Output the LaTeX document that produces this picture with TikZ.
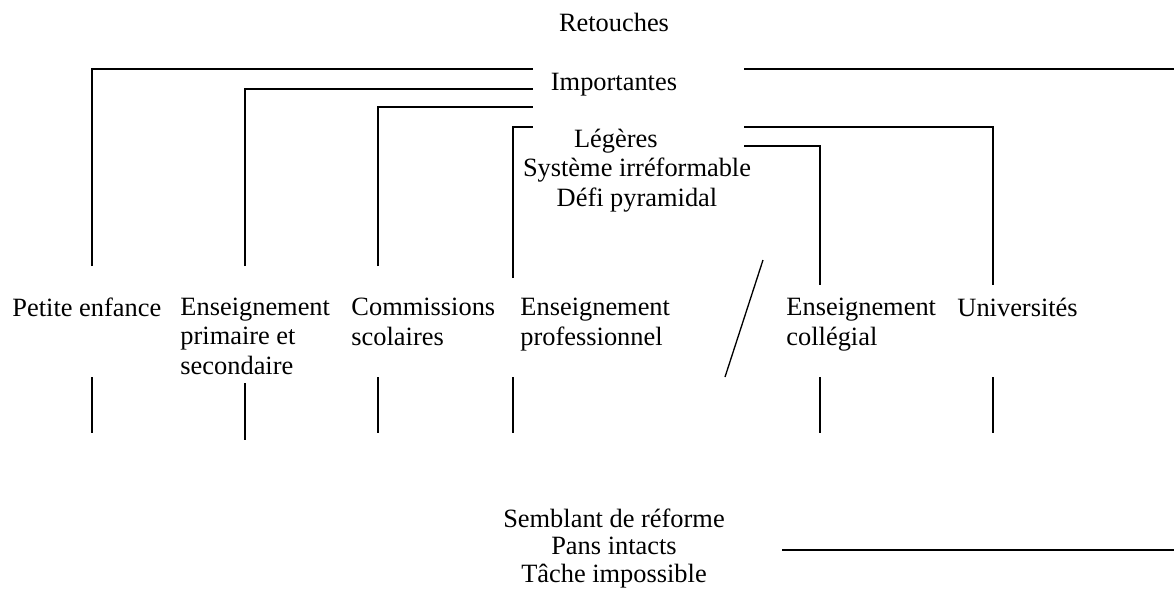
\documentclass[tikz,border=0pt]{standalone}
\usepackage{fontspec}
\setmainfont{Liberation Serif}
\usepackage{tikz}
\usetikzlibrary{positioning}

\begin{document}
\begin{tikzpicture}[x=0.4545pt,y=-0.4545pt]
	\tikzstyle{midbox} = [anchor=base, align=center, inner sep=0pt, font=\fontsize{12}{13.2}\selectfont]
	\tikzstyle{colbox} = [anchor=base west, align=left, inner sep=0pt, font=\fontsize{12}{13.2}\selectfont]
	\tikzstyle{lien} = [line width=0.6pt, black]
	\useasboundingbox (0,0) rectangle (1174,599);
	
	% base = last line
	\node (ret) at (614,31) [midbox]{Retouches};
	\node (imp) at (614,90) [midbox]{Importantes};
	\node (leg) at (637,206) [midbox]{Légères\hspace*{1.6em}\\Système irréformable\\Défi pyramidal};
	\node (sem) at (614,582) [midbox, font=\fontsize{12}{12.5}\selectfont]{Semblant de réforme\\Pans intacts\\Tâche impossible};
	
	\node (pe) at (12,316) [colbox]{Petite enfance};
	\node (eps) at (180,374) [colbox]{Enseignement\\primaire et\\secondaire};
	\node (cs) at (351,345) [colbox]{Commissions\\scolaires};
	\node (ep) at (520,345) [colbox]{Enseignement\\professionnel};
	\node (ec) at (786,345) [colbox]{Enseignement\\collégial};
	\node (uni) at (957,316) [colbox]{Universités};
	
	%ends
	\coordinate (imp-a) at (533,69);
	\coordinate (imp-b) at (533,89);
	\coordinate (imp-c) at (533,107);
	\coordinate (imp-r) at (744,69);
	\coordinate (bord-r) at (1174,69);
	\coordinate (leg-a) at (533,127);
	\coordinate (leg-b) at (744,127);
	\coordinate (leg-c) at (744,146);
	\coordinate (sem-r) at (782,550);
	\coordinate (bord-s) at (1174,550);
	
	\coordinate (pe-up) at (92,266);    \coordinate (pe-dn) at (92,377);   \coordinate (pe-end) at (92,433);
	\coordinate (eps-up) at (245,266);  \coordinate (eps-dn) at (245,383); \coordinate (eps-end) at (245,440);
	\coordinate (cs-up) at (378,266);   \coordinate (cs-dn) at (378,377);  \coordinate (cs-end) at (378,433);
	\coordinate (ep-up) at (513,278);   \coordinate (ep-dn) at (513,377);  \coordinate (ep-end) at (513,433);
	\coordinate (ec-up) at (820,285);   \coordinate (ec-dn) at (820,377);  \coordinate (ec-end) at (820,433);
	\coordinate (uni-up) at (993,285);  \coordinate (uni-dn) at (993,377); \coordinate (uni-end) at (993,433);
	\coordinate (sl-a) at (763,260);
	\coordinate (sl-b) at (725,377);
	
	%Lines
	\draw[lien] (pe-up) |- (imp-a);
	\draw[lien] (eps-up) |- (imp-b);
	\draw[lien] (cs-up) |- (imp-c);
	\draw[lien] (ep-up) |- (leg-a);
	\draw[lien] (imp-r) -- (bord-r);
	\draw[lien] (leg-b) -| (uni-up);
	\draw[lien] (leg-c) -| (ec-up);
	\draw[lien] (sl-a) -- (sl-b);
	\draw[lien] (sem-r) -- (bord-s);
	%below
	\draw[lien] (pe-dn) -- (pe-end);
	\draw[lien] (eps-dn) -- (eps-end);
	\draw[lien] (cs-dn) -- (cs-end);
	\draw[lien] (ep-dn) -- (ep-end);
	\draw[lien] (ec-dn) -- (ec-end);
	\draw[lien] (uni-dn) -- (uni-end);
	
\end{tikzpicture}
\end{document}
